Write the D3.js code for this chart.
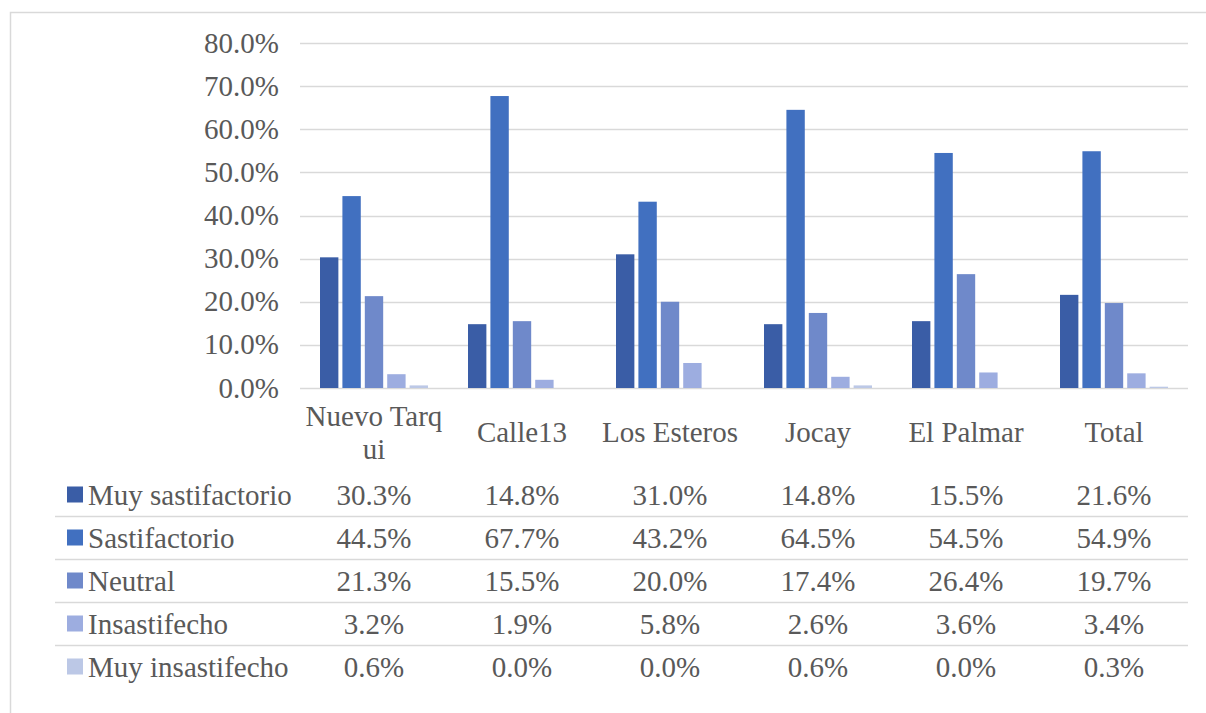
<!DOCTYPE html>
<html>
<head>
<meta charset="utf-8">
<script src="https://cdn.jsdelivr.net/npm/d3@7"></script>
</head>
<body style="margin:0">
<svg id="chart" width="1206" height="713"></svg>
<script>
// Satisfaction by neighbourhood (percent of respondents)
const categories = ["Nuevo Tarqui", "Calle13", "Los Esteros", "Jocay", "El Palmar", "Total"];
const seriesNames = ["Muy sastifactorio", "Sastifactorio", "Neutral", "Insastifecho", "Muy insastifecho"];
const muySatisfactorio = [30.3, 14.8, 31.0, 14.8, 15.5, 21.6];
const satisfactorio    = [44.5, 67.7, 43.2, 64.5, 54.5, 54.9];
const neutral          = [21.3, 15.5, 20.0, 17.4, 26.4, 19.7];
const insatisfecho     = [3.2, 1.9, 5.8, 2.6, 3.6, 3.4];
const muyInsatisfecho  = [0.6, 0.0, 0.0, 0.6, 0.0, 0.3];
const yTicks = [0, 10, 20, 30, 40, 50, 60, 70, 80];
const seriesColors = ["#3a5da6", "#4170c0", "#6f89ca", "#9dade0", "#bcc8e6"];

const seriesValues = [muySatisfactorio, satisfactorio, neutral, insatisfecho, muyInsatisfecho];
const series = seriesNames.map((name, i) => ({ name, values: seriesValues[i], color: seriesColors[i] }));

const FONT = "'Liberation Serif', monospace";
const FS = 29;
const TXT = "#595959";

const svg = d3.select("#chart");
const fmt = v => d3.format(".1f")(v) + "%";

// Chart area frame
svg.append("rect")
  .attr("x", 10.5).attr("y", 12.5)
  .attr("width", 1220).attr("height", 720)
  .attr("fill", "none").attr("stroke", "#d9d9d9").attr("stroke-width", 1.5);

const plotLeft = 300, plotRight = 1188, plotTop = 43, plotBottom = 388;

const x = d3.scaleBand().domain(categories).range([plotLeft, plotRight]).padding(0);
const xInner = d3.scaleBand().domain(seriesNames).range([20, 128]).paddingInner(0.18).paddingOuter(0);
const y = d3.scaleLinear().domain([0, 80]).range([plotBottom, plotTop]);

function addText(parent) {
  return parent.append("text")
    .attr("font-size", FS)
    .style("font-family", FONT)
    .attr("fill", TXT);
}

// Gridlines
svg.append("g")
  .selectAll("line").data(yTicks).join("line")
  .attr("x1", plotLeft).attr("x2", plotRight)
  .attr("y1", d => Math.round(y(d)) + 0.5).attr("y2", d => Math.round(y(d)) + 0.5)
  .attr("stroke", "#d9d9d9").attr("stroke-width", 1.5);

// Y axis labels
const yLabels = svg.append("g");
yTicks.forEach(t => {
  addText(yLabels)
    .attr("x", plotLeft - 21).attr("y", y(t)).attr("dy", "0.33em")
    .attr("text-anchor", "end")
    .text(fmt(t));
});

// Bars
const groups = svg.append("g").selectAll("g").data(series).join("g")
  .attr("fill", d => d.color);
groups.selectAll("rect")
  .data(s => s.values.map((v, i) => ({ cat: categories[i], v, name: s.name })))
  .join("rect")
  .attr("x", d => x(d.cat) + xInner(d.name))
  .attr("width", xInner.bandwidth())
  .attr("y", d => y(d.v))
  .attr("height", d => y(0) - y(d.v));

// Category labels, wrapped by character to the band width
const catG = svg.append("g");
const catLines = {"Nuevo Tarqui": ["Nuevo Tarq", "ui"]};
categories.forEach(c => {
  const cx = x(c) + x.bandwidth() / 2;
  const lines = catLines[c] || [c];
  const lh = 33;
  const firstY = 432 - (lines.length - 1) * lh / 2;
  const t = addText(catG).attr("text-anchor", "middle");
  lines.forEach((ln, i) => {
    t.append("tspan").attr("x", cx).attr("y", firstY + i * lh).attr("dy", "0.35em").text(ln);
  });
});

// Data table
const rowTop = 473, rowH = 43;
const table = svg.append("g");
series.forEach((s, r) => {
  const cy = rowTop + r * rowH + rowH / 2;
  if (r > 0) {
    table.append("line")
      .attr("x1", 55).attr("x2", plotRight)
      .attr("y1", rowTop + r * rowH + 0.5).attr("y2", rowTop + r * rowH + 0.5)
      .attr("stroke", "#d9d9d9").attr("stroke-width", 1.5);
  }
  table.append("rect")
    .attr("x", 67).attr("y", cy - 8).attr("width", 16).attr("height", 16)
    .attr("fill", s.color);
  addText(table)
    .attr("x", 88).attr("y", cy).attr("dy", "0.35em")
    .text(s.name);
  s.values.forEach((v, i) => {
    addText(table)
      .attr("x", x(categories[i]) + x.bandwidth() / 2)
      .attr("y", cy).attr("dy", "0.35em")
      .attr("text-anchor", "middle")
      .text(fmt(v));
  });
});
</script>
</body>
</html>
